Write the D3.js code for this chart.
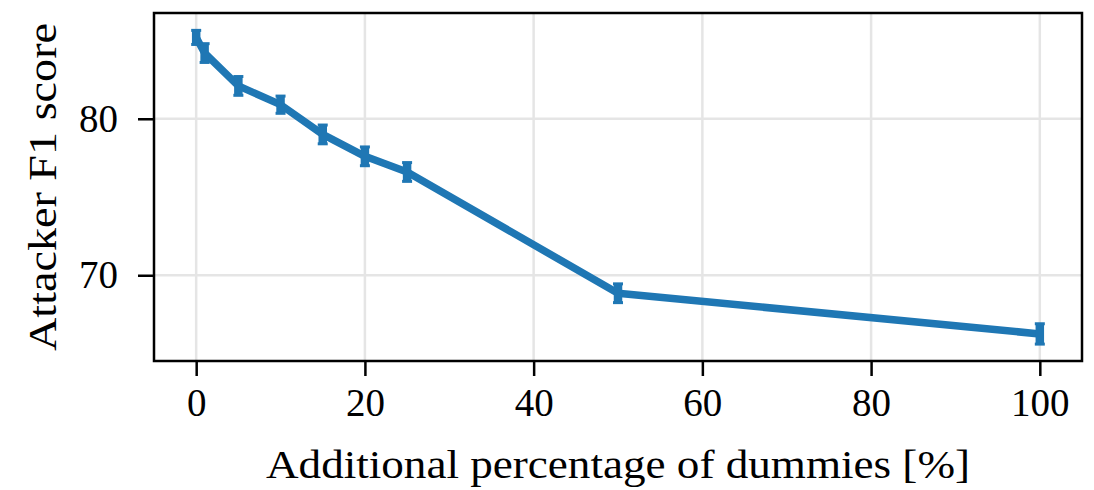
<!DOCTYPE html>
<html>
<head>
<meta charset="utf-8">
<script src="https://cdn.jsdelivr.net/npm/d3@7"></script>
<style>
  body { margin: 0; background: #fff; }
  text { font-family: "Liberation Serif", "DejaVu Serif", serif; fill: #000; }
</style>
</head>
<body>
<div id="chart"></div>
<script>
// dummies added (%) vs attacker F1 score
const dummies = [0, 1, 5, 10, 15, 20, 25, 50, 100];
const f1Score = [85.2, 84.2, 82.1, 80.9, 79.0, 77.6, 76.6, 68.85, 66.25];
const f1Err = [0.45, 0.6, 0.6, 0.55, 0.6, 0.6, 0.6, 0.6, 0.65];
const xTicks = [0, 20, 40, 60, 80, 100];
const yTicks = [70, 80];

var width = 1094;
var height = 490;
var margin = {top: 13, right: 12, bottom: 129, left: 154};

var svg = d3.select("#chart").append("svg")
    .attr("width", width)
    .attr("height", height);

var x = d3.scaleLinear().domain([-5, 105]).range([margin.left, width - margin.right]);
var y = d3.scaleLinear().domain([64.52, 86.76]).range([height - margin.bottom, margin.top]);

var blue = "#1f77b4";

// grid
svg.append("g")
    .selectAll("line")
    .data(xTicks)
    .enter().append("line")
    .attr("x1", d => x(d)).attr("x2", d => x(d))
    .attr("y1", margin.top).attr("y2", height - margin.bottom)
    .attr("stroke", "#e5e5e5").attr("stroke-width", 2.5);
svg.append("g")
    .selectAll("line")
    .data(yTicks)
    .enter().append("line")
    .attr("x1", margin.left).attr("x2", width - margin.right)
    .attr("y1", d => y(d)).attr("y2", d => y(d))
    .attr("stroke", "#e5e5e5").attr("stroke-width", 2.5);

// axes
var xAxis = svg.append("g")
    .attr("transform", `translate(0,${height - margin.bottom})`)
    .call(d3.axisBottom(x).tickValues(xTicks).tickSize(15).tickPadding(12));
var yAxis = svg.append("g")
    .attr("transform", `translate(${margin.left},0)`)
    .call(d3.axisLeft(y).tickValues(yTicks).tickSize(16).tickPadding(20));

[xAxis, yAxis].forEach(function(a) {
    a.select(".domain").remove();
    a.selectAll(".tick line").attr("stroke", "#000").attr("stroke-width", 2.5);
    a.selectAll(".tick text").attr("font-size", 39).attr("fill", "#000");
});

// line
var line = d3.line()
    .x((d, i) => x(dummies[i]))
    .y(d => y(d));

svg.append("path")
    .datum(f1Score)
    .attr("d", line)
    .attr("fill", "none")
    .attr("stroke", blue)
    .attr("stroke-width", 7.5)
    .attr("stroke-linejoin", "round");

// error bars
var err = svg.append("g")
    .selectAll("g")
    .data(f1Score)
    .enter().append("g");
err.append("line")
    .attr("x1", (d, i) => x(dummies[i])).attr("x2", (d, i) => x(dummies[i]))
    .attr("y1", (d, i) => y(d - f1Err[i])).attr("y2", (d, i) => y(d + f1Err[i]))
    .attr("stroke", blue).attr("stroke-width", 8.5);
err.append("line")
    .attr("x1", (d, i) => x(dummies[i]) - 5).attr("x2", (d, i) => x(dummies[i]) + 5)
    .attr("y1", (d, i) => y(d - f1Err[i])).attr("y2", (d, i) => y(d - f1Err[i]))
    .attr("stroke", blue).attr("stroke-width", 3);
err.append("line")
    .attr("x1", (d, i) => x(dummies[i]) - 5).attr("x2", (d, i) => x(dummies[i]) + 5)
    .attr("y1", (d, i) => y(d + f1Err[i])).attr("y2", (d, i) => y(d + f1Err[i]))
    .attr("stroke", blue).attr("stroke-width", 3);

// frame
svg.append("rect")
    .attr("x", margin.left).attr("y", margin.top)
    .attr("width", width - margin.left - margin.right)
    .attr("height", height - margin.top - margin.bottom)
    .attr("fill", "none").attr("stroke", "#000").attr("stroke-width", 2.5);

// labels
svg.append("text")
    .attr("x", (margin.left + width - margin.right) / 2)
    .attr("y", 478)
    .attr("text-anchor", "middle")
    .attr("font-size", 40)
    .attr("textLength", 704)
    .attr("lengthAdjust", "spacingAndGlyphs")
    .text("Additional percentage of dummies [%]");

svg.append("text")
    .attr("transform", `translate(56,${(margin.top + height - margin.bottom) / 2}) rotate(-90)`)
    .attr("text-anchor", "middle")
    .attr("font-size", 40)
    .attr("textLength", 328)
    .attr("lengthAdjust", "spacingAndGlyphs")
    .text("Attacker F1 score");
</script>
</body>
</html>
